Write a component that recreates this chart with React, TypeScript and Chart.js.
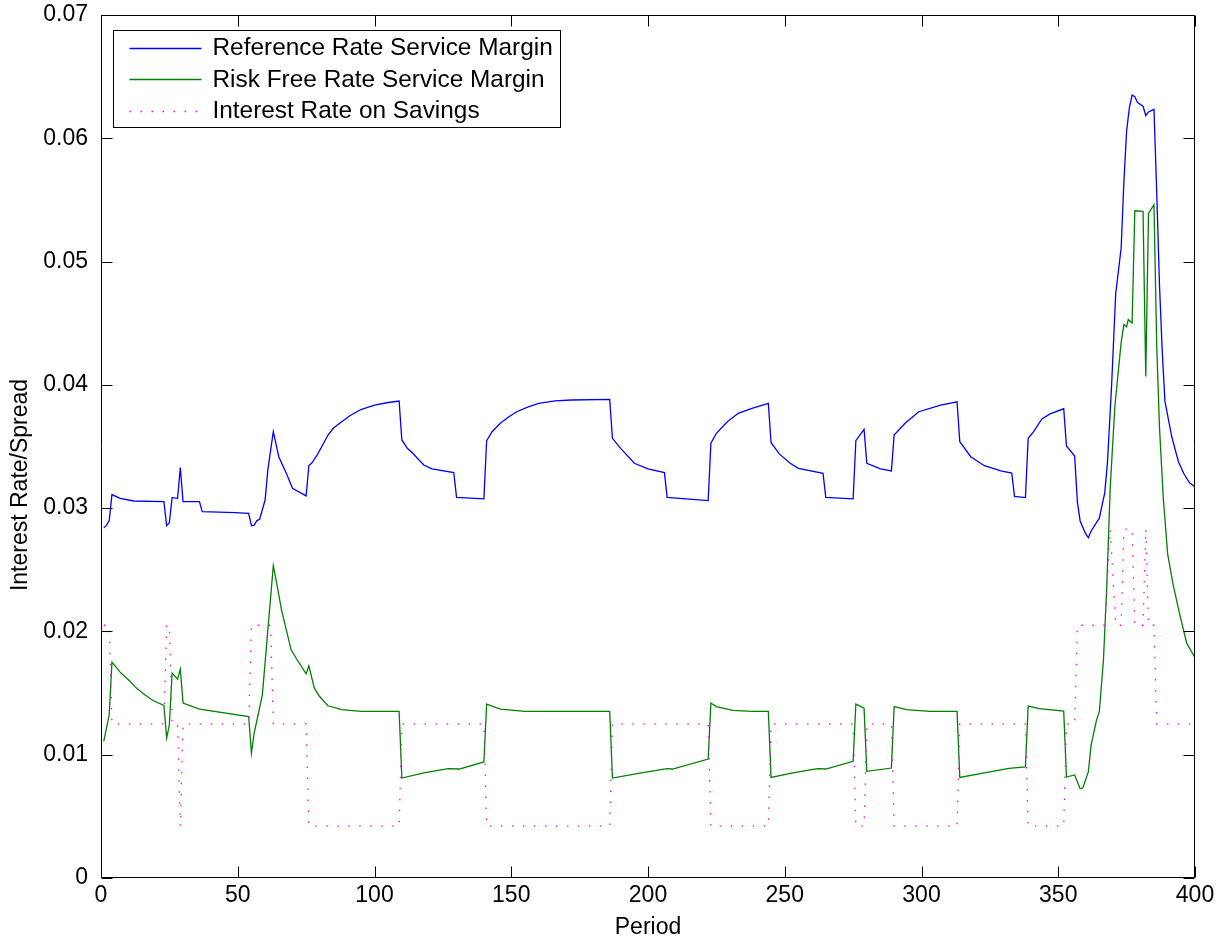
import React, { useEffect, useRef } from 'react';
import { Chart, registerables } from 'chart.js';

Chart.register(...registerables);

const FONT = '"Liberation Sans", Arial, Helvetica, sans-serif';

// Reference Rate Service Margin (blue)
const refPeriods = [1, 2, 3, 4, 7, 12, 23, 24, 25, 26, 28, 29, 30, 36, 37, 49, 54, 55, 56, 57, 58, 60, 61, 63, 65, 68, 70, 75, 76, 77, 79, 81, 83, 85, 88, 91, 95, 100, 105, 109, 110, 112, 114, 118, 121, 129, 130, 140, 141, 143, 146, 149, 152, 156, 160, 166, 172, 186, 187, 190, 195, 200, 206, 207, 222, 223, 225, 229, 233, 238, 244, 245, 248, 252, 255, 264, 265, 275, 276, 279, 280, 285, 289, 290, 294, 299, 307, 313, 314, 318, 323, 329, 333, 334, 338, 339, 341, 344, 347, 352, 353, 356, 357, 358, 360, 361, 362, 364, 365, 367, 368, 369.5, 371, 373, 374, 375, 376, 377, 378, 379, 381, 382, 383, 385, 386, 387, 388, 389, 391.5, 394, 396, 398, 400];
const refMargin = [0.0284, 0.0286, 0.029, 0.0311, 0.0308, 0.03058, 0.03053, 0.02858, 0.02883, 0.03085, 0.0308, 0.0333, 0.03053, 0.03053, 0.02972, 0.02964, 0.02958, 0.02858, 0.02862, 0.02899, 0.0291, 0.03066, 0.0331, 0.0362, 0.03417, 0.0327, 0.03161, 0.03099, 0.03345, 0.03364, 0.0343, 0.0351, 0.03593, 0.0365, 0.03701, 0.0375, 0.038, 0.03836, 0.03857, 0.03869, 0.03553, 0.03485, 0.03445, 0.0335, 0.03318, 0.03288, 0.03088, 0.03075, 0.03547, 0.0362, 0.03688, 0.0374, 0.03782, 0.0382, 0.0385, 0.0387, 0.03877, 0.03882, 0.03566, 0.03485, 0.03364, 0.03318, 0.03288, 0.03088, 0.03061, 0.03526, 0.03607, 0.03701, 0.03769, 0.0381, 0.0385, 0.03531, 0.0344, 0.03364, 0.03323, 0.03283, 0.03088, 0.03075, 0.03547, 0.03639, 0.03364, 0.03318, 0.03302, 0.03593, 0.03688, 0.03782, 0.03836, 0.03863, 0.03539, 0.03417, 0.03344, 0.03302, 0.03285, 0.03095, 0.03086, 0.03566, 0.0362, 0.03724, 0.03765, 0.03806, 0.03504, 0.03422, 0.03049, 0.02896, 0.02793, 0.0276, 0.02813, 0.02884, 0.02917, 0.03124, 0.03372, 0.03993, 0.04737, 0.0511, 0.05647, 0.06061, 0.06247, 0.06351, 0.06338, 0.06289, 0.0626, 0.06185, 0.06214, 0.06235, 0.05565, 0.0482, 0.04282, 0.03868, 0.03579, 0.03372, 0.03277, 0.03206, 0.03173];

// Risk Free Rate Service Margin (green)
const rfPeriods = [1, 3, 4, 7, 10, 13, 16, 19, 23, 24, 25, 26, 28, 29, 30, 36, 54, 55, 56, 59, 63, 64, 66, 68, 69.5, 72, 75, 76, 78, 80, 83, 88, 95, 109, 110, 118, 127, 131, 140, 141, 146, 155, 186, 187, 196, 207, 209, 222, 223, 225, 231, 238, 244, 245, 253, 262, 265, 275, 276, 279, 280, 289, 290, 294.5, 303, 313, 314, 323, 332, 338, 339, 343, 352, 353, 356, 358, 359, 361, 362, 364, 365, 366.5, 367.7, 369, 370.7, 373, 374, 375, 375.6, 377, 378, 381, 382, 383, 385, 386, 387, 388.4, 390, 392, 394.5, 397, 400];
const rfMargin = [0.01108, 0.01324, 0.01751, 0.0167, 0.01608, 0.0154, 0.01486, 0.0144, 0.014, 0.01135, 0.01243, 0.01662, 0.01613, 0.01694, 0.01419, 0.0137, 0.0131, 0.01014, 0.01176, 0.01486, 0.02534, 0.0242, 0.02175, 0.0199, 0.01851, 0.0176, 0.01656, 0.01721, 0.0154, 0.0147, 0.01397, 0.01365, 0.01351, 0.01351, 0.00811, 0.00852, 0.00887, 0.00884, 0.00941, 0.01411, 0.0137, 0.01351, 0.01351, 0.00811, 0.00846, 0.00887, 0.00884, 0.00965, 0.01419, 0.0139, 0.01359, 0.01351, 0.01351, 0.00816, 0.00852, 0.00887, 0.00884, 0.00946, 0.01411, 0.01378, 0.00865, 0.00892, 0.01391, 0.01365, 0.01351, 0.01351, 0.00816, 0.00852, 0.00889, 0.00902, 0.01394, 0.01374, 0.01353, 0.00819, 0.00836, 0.00724, 0.00732, 0.00861, 0.01076, 0.01283, 0.01345, 0.01758, 0.02338, 0.03165, 0.03827, 0.04344, 0.04489, 0.0447, 0.0453, 0.04501, 0.05412, 0.05408, 0.04067, 0.05391, 0.05461, 0.04324, 0.03662, 0.03082, 0.02627, 0.02379, 0.02131, 0.01903, 0.01787];

// Interest Rate on Savings (magenta, dotted)
const savPeriods = [1, 3, 4, 23, 24, 25, 26, 28, 29, 30, 54, 55, 62, 63, 75, 76, 109, 110, 140, 141, 186, 187, 222, 223, 244, 245, 275, 276, 279, 280, 289, 290, 313, 314, 338, 339, 352, 353, 356, 357, 367, 369, 371, 373, 374, 377, 378, 381, 382, 383, 385, 386, 400];
const savRate = [0.0205, 0.0205, 0.0125, 0.0125, 0.0205, 0.0205, 0.0125, 0.0125, 0.0042, 0.0125, 0.0125, 0.0205, 0.0205, 0.0125, 0.0125, 0.0042, 0.0042, 0.0125, 0.0125, 0.0042, 0.0042, 0.0125, 0.0125, 0.0042, 0.0042, 0.0125, 0.0125, 0.0042, 0.0042, 0.0125, 0.0125, 0.0042, 0.0042, 0.0125, 0.0125, 0.0042, 0.0042, 0.0125, 0.0125, 0.0205, 0.0205, 0.0283, 0.0205, 0.0205, 0.0283, 0.0283, 0.0205, 0.0205, 0.0283, 0.0205, 0.0205, 0.0125, 0.0125];

const seriesLabels = ['Reference Rate Service Margin', 'Risk Free Rate Service Margin', 'Interest Rate on Savings'];
const xTicks = [0, 50, 100, 150, 200, 250, 300, 350, 400];
const yTicks = [0, 0.01, 0.02, 0.03, 0.04, 0.05, 0.06, 0.07];
const xTitle = 'Period';
const yTitle = 'Interest Rate/Spread';

const framePlugin = {
  id: 'matlabFrame',
  afterDatasetsDraw(chart: any) {
    const { ctx, chartArea: a, scales } = chart;
    const L = Math.round(a.left) + 0.5;
    const R = Math.round(a.right) - 0.5;
    const T = Math.round(a.top) + 0.5;
    const B = Math.round(a.bottom) - 0.5;
    const tl = 11;
    ctx.save();
    ctx.strokeStyle = '#000';
    ctx.lineWidth = 1;
    ctx.beginPath();
    ctx.rect(L, T, R - L, B - T);
    for (const v of xTicks) {
      const px = Math.round(scales.x.getPixelForValue(v)) + 0.5;
      ctx.moveTo(px, B); ctx.lineTo(px, B - tl);
      ctx.moveTo(px, T); ctx.lineTo(px, T + tl);
    }
    for (const v of yTicks) {
      const py = Math.round(scales.y.getPixelForValue(v)) + 0.5;
      ctx.moveTo(L, py); ctx.lineTo(L + tl, py);
      ctx.moveTo(R, py); ctx.lineTo(R - tl, py);
    }
    ctx.stroke();
    ctx.restore();
  },
};

const textPlugin = {
  id: 'boxedLegendAndYTitle',
  afterDraw(chart: any) {
    const { ctx, chartArea: a } = chart;
    const ds = chart.data.datasets;
    ctx.save();
    // y-axis title
    ctx.save();
    ctx.font = `23px ${FONT}`;
    ctx.fillStyle = '#000';
    ctx.textAlign = 'center';
    ctx.textBaseline = 'middle';
    ctx.translate(21, 485);
    ctx.rotate(-Math.PI / 2);
    ctx.fillText(yTitle, 0, 0);
    ctx.restore();

    // legend
    ctx.font = `24.4px ${FONT}`;
    let maxW = 0;
    for (const d of ds) maxW = Math.max(maxW, ctx.measureText(d.label).width);
    const x0 = Math.round(a.left + 12) + 0.5;
    const y0 = Math.round(a.top + 15) + 0.5;
    const textX = x0 + 99;
    const w = Math.round(99 + maxW + 8);
    const h = 97;
    ctx.fillStyle = '#fff';
    ctx.fillRect(x0, y0, w, h);
    ctx.strokeStyle = '#000';
    ctx.lineWidth = 1;
    ctx.strokeRect(x0, y0, w, h);
    ds.forEach((d: any, i: number) => {
      const cy = y0 + 17 + i * 31.5;
      ctx.save();
      ctx.strokeStyle = d.borderColor;
      ctx.lineWidth = d.borderWidth;
      ctx.setLineDash(d.borderDash || []);
      ctx.beginPath();
      ctx.moveTo(x0 + 16, Math.round(cy) + 0.5);
      ctx.lineTo(x0 + 88, Math.round(cy) + 0.5);
      ctx.stroke();
      ctx.restore();
      ctx.fillStyle = '#000';
      ctx.textBaseline = 'middle';
      ctx.textAlign = 'left';
      ctx.fillText(d.label, textX, cy + 1);
    });
    ctx.restore();
  },
};

export default function App() {
  const ref = useRef<HTMLCanvasElement>(null);

  useEffect(() => {
    const canvas = ref.current;
    if (!canvas) return;
    const toPts = (xs: number[], ys: number[]) => xs.map((x, i) => ({ x, y: ys[i] }));
    Chart.defaults.font.family = FONT;
    Chart.defaults.color = '#000';

    const chart = new Chart(canvas, {
      type: 'line',
      data: {
        datasets: [
          {
            label: seriesLabels[0],
            data: toPts(refPeriods, refMargin),
            borderColor: '#0000ff',
            borderWidth: 1.3,
            pointRadius: 0,
            fill: false,
            tension: 0,
            order: 2,
          },
          {
            label: seriesLabels[1],
            data: toPts(rfPeriods, rfMargin),
            borderColor: '#008000',
            borderWidth: 1.3,
            pointRadius: 0,
            fill: false,
            tension: 0,
            order: 1,
          },
          {
            label: seriesLabels[2],
            data: toPts(savPeriods, savRate),
            borderColor: '#ff00ff',
            borderWidth: 1.3,
            borderDash: [1.5, 9.5],
            pointRadius: 0,
            fill: false,
            tension: 0,
            order: 0,
          },
        ] as any,
      },
      options: {
        animation: false,
        responsive: false,
        devicePixelRatio: 1,
        events: [],
        layout: { padding: { top: 15, right: 22, left: 0, bottom: 0 } },
        plugins: {
          legend: { display: false },
          tooltip: { enabled: false },
          title: { display: false },
        },
        scales: {
          x: {
            type: 'linear',
            min: 0,
            max: 400,
            grid: { display: false, drawTicks: false },
            border: { display: false },
            afterBuildTicks: (s: any) => {
              s.ticks = xTicks.map((v) => ({ value: v }));
            },
            afterFit: (s: any) => {
              s.height = 62;
              s.paddingLeft = 0;
              s.paddingRight = 0;
              s.paddingTop = 0;
              s.paddingBottom = 0;
            },
            ticks: {
              autoSkip: false,
              maxRotation: 0,
              padding: 4,
              color: '#000',
              font: { size: 23, family: FONT },
              callback: (v: any) => String(v),
            },
            title: {
              display: true,
              text: xTitle,
              color: '#000',
              font: { size: 23, family: FONT, lineHeight: 1 },
              padding: { top: 0, bottom: 0.5 },
            },
          },
          y: {
            type: 'linear',
            min: 0,
            max: 0.07,
            grid: { display: false, drawTicks: false },
            border: { display: false },
            afterBuildTicks: (s: any) => {
              s.ticks = yTicks.map((v) => ({ value: v }));
            },
            afterFit: (s: any) => {
              s.width = 101;
              s.paddingLeft = 0;
              s.paddingRight = 0;
              s.paddingTop = 0;
              s.paddingBottom = 0;
            },
            ticks: {
              autoSkip: false,
              padding: 13,
              color: '#000',
              font: { size: 23, family: FONT },
              callback: (v: any) => (Number(v) === 0 ? '0' : Number(v).toFixed(2)),
            },
            title: { display: false },
          },
        },
      } as any,
      plugins: [framePlugin, textPlugin],
    });

    return () => chart.destroy();
  }, []);

  return (
    <div style={{ position: 'fixed', left: 0, top: 0, width: 1217, height: 940, background: '#fff' }}>
      <canvas ref={ref} width={1217} height={940} style={{ display: 'block' }} />
    </div>
  );
}
